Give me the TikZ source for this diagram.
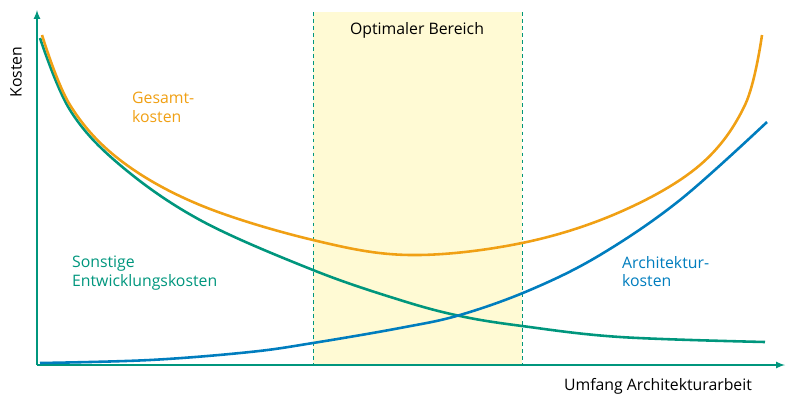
\documentclass[tikz,border=0pt]{standalone}
\usepackage{fontspec}
\setmainfont{Open Sans}
\definecolor{gruen}{RGB}{0,150,125}
\definecolor{orange}{RGB}{240,160,20}
\definecolor{blau}{RGB}{0,125,190}
\definecolor{gelb}{RGB}{255,250,212}
\tikzset{
	kurve/.style={line width=2.2pt, smooth, tension=0.6},
	beschr/.style={font=\fontsize{13.5}{16}\selectfont, align=left, anchor=north west}
}
\begin{document}
\begin{tikzpicture}[x=0.03cm,y=-0.03cm]
	\useasboundingbox (0,0) rectangle (800,408);
	% optimaler Bereich
	\fill[gelb] (313,12) rectangle (522,365);
	\draw[gruen, dashed, thick] (313,12) -- (313,365) (522,12) -- (522,365);
	\node[font=\fontsize{13.5}{16}\selectfont] (opt) at (417,30) {Optimaler Bereich};
	% Achsen
	\draw[gruen, line width=1.6pt, -latex] (37,365) -- (37,10);
	\draw[gruen, line width=1.6pt, -latex] (37,365) -- (785,365);
	\node[rotate=90, font=\fontsize{13.5}{16}\selectfont] (ky) at (16,72) {Kosten};
	\node[font=\fontsize{13.5}{16}\selectfont] (kx) at (658,386) {Umfang Architekturarbeit};
	% Kurven
	\draw[kurve, gruen] plot coordinates {(40,38) (70,110) (120,165) (200,220) (313,270) (400,300) (460,316) (522,326) (620,337) (765,342)};
	\draw[kurve, orange] plot coordinates {(42,35) (70,105) (120,160) (200,205) (313,240) (410,255) (522,243) (620,212) (700,165) (745,105) (762,35)};
	\draw[kurve, blau] plot coordinates {(40,363) (150,360) (250,352) (313,343) (400,328) (460,315) (530,290) (600,255) (680,200) (767,122)};
	% Beschriftungen
	\node[beschr, text=orange] (ges) at (128,88) {Gesamt-\\kosten};
	\node[beschr, text=gruen] (son) at (68,252) {Sonstige\\Entwicklungskosten};
	\node[beschr, text=blau] (arc) at (618,252) {Architektur-\\kosten};
\end{tikzpicture}
\end{document}
